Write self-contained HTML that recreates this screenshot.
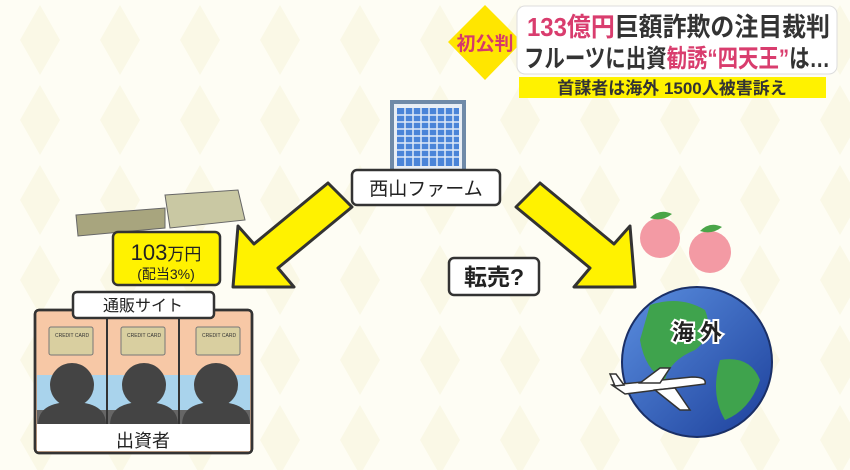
<!DOCTYPE html>
<html><head><meta charset="utf-8"><style>
body{margin:0;width:850px;height:470px;overflow:hidden;background:#fdfcf1;font-family:"Liberation Sans","Noto Sans CJK JP",sans-serif}
</style></head><body>
<svg width="850" height="470" viewBox="0 0 850 470" xmlns="http://www.w3.org/2000/svg" style="position:absolute;left:0;top:0">
<defs>
<pattern id="dia" width="80" height="80" patternUnits="userSpaceOnUse">
<polygon points="40,5 60,40 40,75 20,40" fill="#faf8e6"/>
</pattern>
<linearGradient id="g" x1="0" y1="0" x2="1" y2="1"><stop offset="0" stop-color="#5b8fe0"/><stop offset="1" stop-color="#1c3f9a"/></linearGradient>
</defs>
<rect width="850" height="470" fill="#fefdf4"/>
<rect width="850" height="470" fill="url(#dia)"/>

<!-- header -->
<polygon points="485,5 522,42 485,80 448,42" fill="#ffe600"/>
<text x="485" y="50" font-size="19" font-weight="bold" fill="#d63a6a" text-anchor="middle">初公判</text>
<rect x="517" y="6" width="320" height="68" rx="8" fill="#fff" stroke="#ddd"/>
<text x="527" y="36" font-size="26" font-weight="bold" fill="#333" textLength="303" lengthAdjust="spacingAndGlyphs"><tspan fill="#d93d6e">133億円</tspan>巨額詐欺の注目裁判</text>
<text x="524" y="67" font-size="25" font-weight="bold" fill="#333" textLength="306" lengthAdjust="spacingAndGlyphs">フルーツに出資<tspan fill="#d93d6e">勧誘“四天王”</tspan>は…</text>
<rect x="519" y="77" width="307" height="21" fill="#fff200"/>
<text x="672" y="94" font-size="17" font-weight="bold" fill="#333" text-anchor="middle">首謀者は海外 1500人被害訴え</text>

<!-- building -->
<rect x="390" y="100" width="76" height="70" fill="#6f8aa8"/>
<rect x="394" y="104" width="68" height="66" fill="#e8eef5"/>
<rect x="397" y="108" width="62" height="58" fill="#4a84d8"/>
<g stroke="#dfe9f7" stroke-width="1.5">
<line x1="397" y1="115" x2="459" y2="115"/><line x1="397" y1="122" x2="459" y2="122"/><line x1="397" y1="129" x2="459" y2="129"/><line x1="397" y1="136" x2="459" y2="136"/><line x1="397" y1="143" x2="459" y2="143"/><line x1="397" y1="150" x2="459" y2="150"/><line x1="397" y1="157" x2="459" y2="157"/>
<line x1="405" y1="108" x2="405" y2="166"/><line x1="413" y1="108" x2="413" y2="166"/><line x1="421" y1="108" x2="421" y2="166"/><line x1="429" y1="108" x2="429" y2="166"/><line x1="437" y1="108" x2="437" y2="166"/><line x1="445" y1="108" x2="445" y2="166"/><line x1="453" y1="108" x2="453" y2="166"/>
</g>
<rect x="352" y="170" width="148" height="35" rx="5" fill="#fff" stroke="#333" stroke-width="2.5"/>
<text x="426" y="195" font-size="19" fill="#222" text-anchor="middle">西山ファーム</text>

<!-- arrows -->
<polygon points="328,183 352,207 278,268 294,287 233,287 238,226 254,244" fill="#fff200" stroke="#333" stroke-width="3" stroke-linejoin="round"/>
<polygon points="540,183 516,207 590,268 574,287 635,287 630,226 614,244" fill="#fff200" stroke="#333" stroke-width="3" stroke-linejoin="round"/>
<rect x="449" y="258" width="90" height="37" rx="5" fill="#fff" stroke="#333" stroke-width="2.5"/>
<text x="494" y="285" font-size="23" font-weight="bold" fill="#222" text-anchor="middle">転売?</text>

<!-- money -->
<polygon points="76,215 165,208 165,228 78,236" fill="#a8a57e" stroke="#666"/>
<polygon points="165,195 238,190 245,220 170,228" fill="#c9c8a3" stroke="#666"/>
<rect x="113" y="232" width="107" height="53" rx="5" fill="#fff200" stroke="#333" stroke-width="2.5"/>
<text x="166" y="260" font-size="22" fill="#222" text-anchor="middle">103<tspan font-size="17">万円</tspan></text>
<text x="166" y="279" font-size="14" fill="#222" text-anchor="middle">(配当3%)</text>

<!-- investors -->
<rect x="35" y="310" width="217" height="143" rx="4" fill="#f7c8a6" stroke="#333" stroke-width="2.5"/>
<rect x="37" y="375" width="213" height="35" fill="#a9d3ec"/>
<rect x="37" y="410" width="213" height="14" fill="#666"/>
<line x1="107" y1="312" x2="107" y2="425" stroke="#333" stroke-width="2"/>
<line x1="179" y1="312" x2="179" y2="425" stroke="#333" stroke-width="2"/>
<g>
<rect x="49" y="327" width="44" height="28" rx="2" fill="#d9cfa0" stroke="#777"/>
<rect x="121" y="327" width="44" height="28" rx="2" fill="#d9cfa0" stroke="#777"/>
<rect x="196" y="327" width="44" height="28" rx="2" fill="#d9cfa0" stroke="#777"/>
</g>
<g font-size="5" fill="#333"><text x="55" y="337">CREDIT CARD</text><text x="127" y="337">CREDIT CARD</text><text x="202" y="337">CREDIT CARD</text></g>
<g fill="#444">
<circle cx="72" cy="385" r="22"/><path d="M38,425 Q38,402 72,402 Q106,402 106,425Z"/>
<circle cx="144" cy="385" r="22"/><path d="M110,425 Q110,402 144,402 Q178,402 178,425Z"/>
<circle cx="216" cy="385" r="22"/><path d="M182,425 Q182,402 216,402 Q250,402 250,425Z"/>
</g>
<rect x="37" y="424" width="213" height="27" fill="#fff"/>
<rect x="35" y="310" width="217" height="143" rx="4" fill="none" stroke="#333" stroke-width="2.5"/>
<text x="143" y="447" font-size="18" fill="#222" text-anchor="middle">出資者</text>
<rect x="73" y="292" width="141" height="26" rx="4" fill="#fff" stroke="#333" stroke-width="2.5"/>
<text x="143" y="311" font-size="16" fill="#222" text-anchor="middle">通販サイト</text>

<!-- peaches -->
<circle cx="660" cy="238" r="20" fill="#f39aa4"/>
<circle cx="710" cy="252" r="21" fill="#f39aa4"/>
<path d="M650,218 q10,-10 22,-4 q-10,8 -22,4z" fill="#4aa548"/>
<path d="M700,231 q10,-10 22,-4 q-10,8 -22,4z" fill="#4aa548"/>

<!-- globe -->
<circle cx="697" cy="362" r="75" fill="url(#g)" stroke="#1a2f66" stroke-width="2"/>
<path d="M650,305 q30,-10 55,5 q10,25 -10,40 q-25,10 -30,30 q-20,-10 -25,-40z" fill="#3fa34d"/>
<path d="M720,360 q30,-5 40,20 q-10,30 -35,40 q-15,-25 -5,-60z" fill="#3fa34d"/>
<text x="697" y="340" font-size="22" font-weight="bold" fill="#222" text-anchor="middle" stroke="#fff" stroke-width="4" paint-order="stroke">海 外</text>
<path d="M612,385 l80,-8 q15,0 13,7 l-80,10z" fill="#fff" stroke="#333" stroke-width="1.5"/>
<path d="M640,383 l20,-15 h10 l-10,15z M655,390 l25,20 h10 l-15,-22z M615,386 l-5,-12 h6 l8,11z" fill="#fff" stroke="#333" stroke-width="1.5"/>
</svg>
</body></html>
